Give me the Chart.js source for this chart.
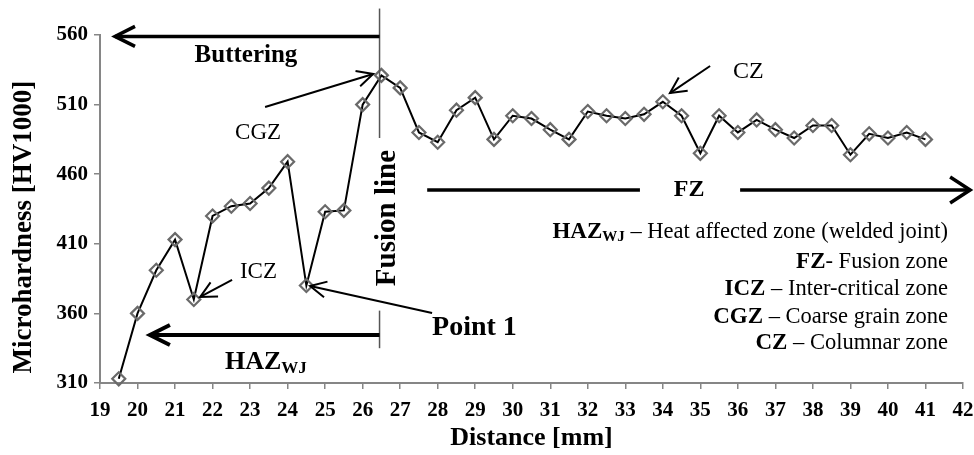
<!DOCTYPE html>
<html>
<head>
<meta charset="utf-8">
<script src="https://cdn.jsdelivr.net/npm/chart.js@4.4.1/dist/chart.umd.min.js"></script>
<style>
  html, body { margin: 0; padding: 0; background: #fff; }
  #wrap { width: 974px; height: 455px; }
</style>
</head>
<body>
<div id="wrap"><canvas id="chart"></canvas></div>
<script>
// Distance from the start of the traverse [mm]
const distance = [19.5, 20, 20.5, 21, 21.5, 22, 22.5, 23, 23.5, 24, 24.5, 25, 25.5, 26, 26.5,
                  27, 27.5, 28, 28.5, 29, 29.5, 30, 30.5, 31, 31.5, 32, 32.5, 33, 33.5, 34,
                  34.5, 35, 35.5, 36, 36.5, 37, 37.5, 38, 38.5, 39, 39.5, 40, 40.5, 41];
// Microhardness HV1000
const hardness = [313, 360, 391, 413, 370, 430, 437, 439, 450, 469, 380, 433, 434, 510, 531,
                  522, 490, 483, 506, 515, 485, 502, 500, 492, 485, 505, 502, 500, 503, 512,
                  502, 475, 502, 490, 499, 492, 486, 495, 495, 474, 489, 486, 490, 485];

const xTickLabels = [19, 20, 21, 22, 23, 24, 25, 26, 27, 28, 29, 30, 31, 32, 33, 34, 35, 36, 37, 38, 39, 40, 41, 42];
const yTickLabels = [310, 360, 410, 460, 510, 560];

// legend text on the right: [text, style] with b = bold, s = bold subscript, r = regular
const legendRows = [
  [['HAZ', 'b'], ['WJ', 's'], [' \u2013 Heat affected zone (welded joint)', 'r']],
  [['FZ', 'b'], ['- Fusion zone', 'r']],
  [['ICZ', 'b'], [' \u2013 Inter-critical zone', 'r']],
  [['CGZ', 'b'], [' \u2013 Coarse grain zone', 'r']],
  [['CZ', 'b'], [' \u2013 Columnar zone', 'r']]
];

const SERIF = "'Liberation Serif', 'Times New Roman', serif";
const AXIS_GREY = '#868686';

function seg(ctx, x1, y1, x2, y2, w, color) {
  ctx.beginPath();
  ctx.lineWidth = w;
  ctx.strokeStyle = color || '#000';
  ctx.moveTo(x1, y1);
  ctx.lineTo(x2, y2);
  ctx.stroke();
}

// open chevron arrow head at (x2, y2)
function arrow(ctx, x1, y1, x2, y2, w, len, half) {
  seg(ctx, x1, y1, x2, y2, w);
  const a = Math.atan2(y2 - y1, x2 - x1);
  const bx = x2 - len * Math.cos(a), by = y2 - len * Math.sin(a);
  const nx = -Math.sin(a) * half, ny = Math.cos(a) * half;
  ctx.beginPath();
  ctx.lineWidth = w;
  ctx.lineJoin = 'miter';
  ctx.moveTo(bx + nx, by + ny);
  ctx.lineTo(x2, y2);
  ctx.lineTo(bx - nx, by - ny);
  ctx.stroke();
}

function label(ctx, txt, x, y, font, align) {
  ctx.font = font;
  ctx.fillStyle = '#000';
  ctx.textAlign = align || 'left';
  ctx.textBaseline = 'middle';
  ctx.fillText(txt, x, y);
}

const notes = {
  id: 'notes',
  afterDraw(chart) {
    const ctx = chart.ctx;
    const X = chart.scales.x, Y = chart.scales.y;
    const px = v => X.getPixelForValue(v);
    const py = v => Y.getPixelForValue(v);
    ctx.save();

    // y axis title (sits a bit lower than the axis centre in the original)
    ctx.save();
    ctx.translate(24, py(422));
    ctx.rotate(-Math.PI / 2);
    label(ctx, 'Microhardness [HV1000]', 0, 0, 'bold 27px ' + SERIF, 'center');
    ctx.restore();

    // fusion line
    const fx = px(26.45);
    seg(ctx, fx, py(579), fx, py(486), 1.5, '#555');
    seg(ctx, fx, py(362), fx, py(335), 1.5, '#555');
    ctx.save();
    ctx.translate(px(26.65), py(428.5));
    ctx.rotate(-Math.PI / 2);
    label(ctx, 'Fusion line', 0, 0, 'bold 29px ' + SERIF, 'center');
    ctx.restore();

    // Buttering
    arrow(ctx, fx, py(559), px(19.4), py(559), 3.5, 20, 10);
    label(ctx, 'Buttering', px(22.89), py(545), 'bold 25px ' + SERIF, 'center');

    // HAZ WJ
    arrow(ctx, fx, py(344.5), px(20.33), py(344.5), 4, 20, 10);
    ctx.font = 'bold 26px ' + SERIF;
    const hx = px(22.33), hy = py(325);
    label(ctx, 'HAZ', hx, hy, 'bold 26px ' + SERIF);
    const hw = ctx.measureText('HAZ').width;
    label(ctx, 'WJ', hx + hw, hy + 6, 'bold 17px ' + SERIF);

    // Point 1
    label(ctx, 'Point 1', px(27.85), py(350), 'bold 28px ' + SERIF);
    arrow(ctx, px(27.85), py(360.3), px(24.6), py(379.7), 2, 16, 8);

    // ICZ, CGZ, CZ
    label(ctx, 'ICZ', px(22.73), py(389.7), '23px ' + SERIF);
    arrow(ctx, px(22.52), py(384), px(21.67), py(371.8), 2, 16, 8);
    label(ctx, 'CGZ', px(22.6), py(489.6), '23px ' + SERIF);
    arrow(ctx, px(23.4), py(508.3), px(26.28), py(532), 2, 16, 8);
    label(ctx, 'CZ', px(35.87), py(533.4), '24px ' + SERIF);
    arrow(ctx, px(35.26), py(537.7), px(34.19), py(518.3), 2, 16, 8);

    // FZ
    const fzY = py(448.6);
    seg(ctx, px(27.72), fzY, px(33.39), fzY, 3.5);
    label(ctx, 'FZ', px(34.7), fzY, 'bold 24px ' + SERIF, 'center');
    arrow(ctx, px(36.06), fzY, px(42.19), fzY, 3.5, 20, 13);

    // legend block, right aligned
    const rightX = px(41.6);
    const rowY = [418.5, 396.9, 377.5, 357.4, 338.7];
    legendRows.forEach((row, i) => {
      const fonts = row.map(p => p[1] === 'r' ? '22.5px ' + SERIF : p[1] === 's' ? 'bold 15px ' + SERIF : 'bold 23px ' + SERIF);
      const widths = row.map((p, j) => { ctx.font = fonts[j]; return ctx.measureText(p[0]).width; });
      let x = rightX - widths.reduce((a, b) => a + b, 0);
      const y = py(rowY[i]);
      row.forEach((p, j) => {
        label(ctx, p[0], x, p[1] === 's' ? y + 5 : y, fonts[j]);
        x += widths[j];
      });
    });

    ctx.restore();
  }
};

new Chart(document.getElementById('chart'), {
  type: 'scatter',
  data: {
    datasets: [{
      data: distance.map((d, i) => ({ x: d, y: hardness[i] })),
      showLine: true,
      borderColor: '#000',
      borderWidth: 2,
      tension: 0,
      pointStyle: 'rectRot',
      pointRadius: 6.5,
      pointBorderColor: '#6a6a6a',
      pointBorderWidth: 2.2,
      pointBackgroundColor: 'rgba(0,0,0,0)',
      clip: false
    }]
  },
  options: {
    responsive: true,
    maintainAspectRatio: false,
    animation: false,
    devicePixelRatio: 1,
    layout: { padding: { top: 35, right: 11, left: 0, bottom: 0 } },
    plugins: { legend: { display: false }, tooltip: { enabled: false } },
    scales: {
      x: {
        type: 'linear',
        min: 19,
        max: 42,
        afterBuildTicks: s => { s.ticks = xTickLabels.map(v => ({ value: v })); },
        afterFit: s => { s.height = 72; s.paddingLeft = 0; s.paddingRight = 0; },
        ticks: { color: '#000', font: { family: SERIF, size: 21, weight: 'bold' }, padding: 9, maxRotation: 0, autoSkip: false },
        grid: { drawOnChartArea: false, drawTicks: true, tickLength: 6, color: AXIS_GREY, lineWidth: 1.5 },
        border: { display: true, color: AXIS_GREY, width: 2 },
        title: { display: true, text: 'Distance [mm]', color: '#000', font: { family: SERIF, size: 26, weight: 'bold' }, padding: { top: 0, bottom: 1 } }
      },
      y: {
        min: 310,
        max: 560,
        afterBuildTicks: s => { s.ticks = yTickLabels.map(v => ({ value: v })); },
        afterFit: s => { s.width = 100; },
        ticks: { color: '#000', font: { family: SERIF, size: 21, weight: 'bold' }, padding: 6 },
        grid: { drawOnChartArea: false, drawTicks: true, tickLength: 6, color: AXIS_GREY, lineWidth: 1.5 },
        border: { display: true, color: AXIS_GREY, width: 2 },
        title: { display: false }
      }
    }
  },
  plugins: [notes]
});
</script>
</body>
</html>
